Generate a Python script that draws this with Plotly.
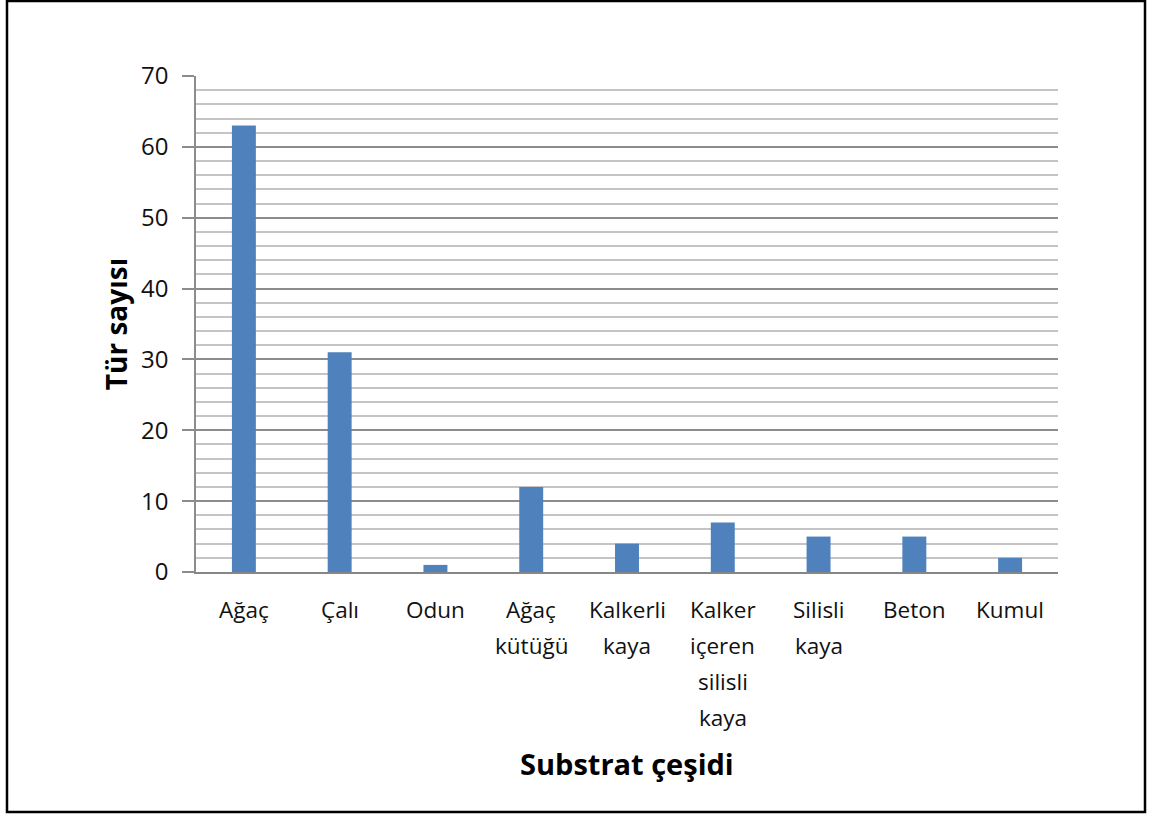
import plotly.graph_objects as go

categories = ["Ağaç", "Çalı", "Odun", "Ağaç kütüğü", "Kalkerli kaya",
              "Kalker içeren silisli kaya", "Silisli kaya", "Beton", "Kumul"]
values = [63, 31, 1, 12, 4, 7, 5, 5, 2]
y_tick_vals = [0, 10, 20, 30, 40, 50, 60, 70]
y_title = "Tür sayısı"
x_title = "Substrat çeşidi"

FONT = "Open Sans, Noto Sans, sans-serif"
TXT = "#111111"

fig = go.Figure(go.Bar(x=categories, y=values, marker=dict(color="#4f81bd", line=dict(width=0)),
                       showlegend=False))

annotations = []
for cat in categories:
    for i, word in enumerate(cat.split(" ")):
        annotations.append(dict(x=cat, xref="x", y=0, yref="paper", text=word, showarrow=False,
                                yanchor="middle", xanchor="center", yshift=-(37 + i * 36),
                                font=dict(family=FONT, size=22.5, color=TXT)))
annotations.append(dict(x=0.5, xref="paper", y=0, yref="paper", text="<b>" + x_title + "</b>",
                        showarrow=False, yanchor="middle", yshift=-191,
                        font=dict(family=FONT, size=29, color="#000")))

L, R, T, B = 196, 94, 76, 244
W, H = 1152, 816
pw, ph = W - L - R, H - T - B

fig.update_layout(
    width=W, height=H,
    margin=dict(l=L, r=R, t=T, b=B),
    paper_bgcolor="white", plot_bgcolor="white",
    bargap=0.75,
    annotations=annotations,
    shapes=[dict(type="rect", xref="paper", yref="paper",
                 x0=(7 - L) / pw, x1=(1145 - L) / pw,
                 y0=(H - B - 812) / ph, y1=(H - B - 1) / ph,
                 line=dict(color="black", width=2.5))],
)
fig.update_xaxes(showticklabels=False, showgrid=False, showline=True, linecolor="#868686",
                 linewidth=1.5, ticks="", zeroline=False)
fig.update_yaxes(range=[0, 70], tickvals=y_tick_vals, showgrid=True, gridcolor="#8c8c8c",
                 gridwidth=1.5, ticks="outside", ticklen=12, tickcolor="#8c8c8c", tickwidth=1.5,
                 showline=True, linecolor="#8c8c8c", linewidth=1.5, zeroline=False,
                 ticklabelstandoff=9,
                 tickfont=dict(family=FONT, size=24, color=TXT),
                 minor=dict(dtick=2, showgrid=True, gridcolor="#c4c4c4", gridwidth=1.5, ticks=""),
                 title=dict(text="<b>" + y_title + "</b>", standoff=5,
                            font=dict(family=FONT, size=28, color="#000")))

fig.write_html("out.html", config={"displayModeBar": False},
               post_script="document.body.style.margin='0';")
